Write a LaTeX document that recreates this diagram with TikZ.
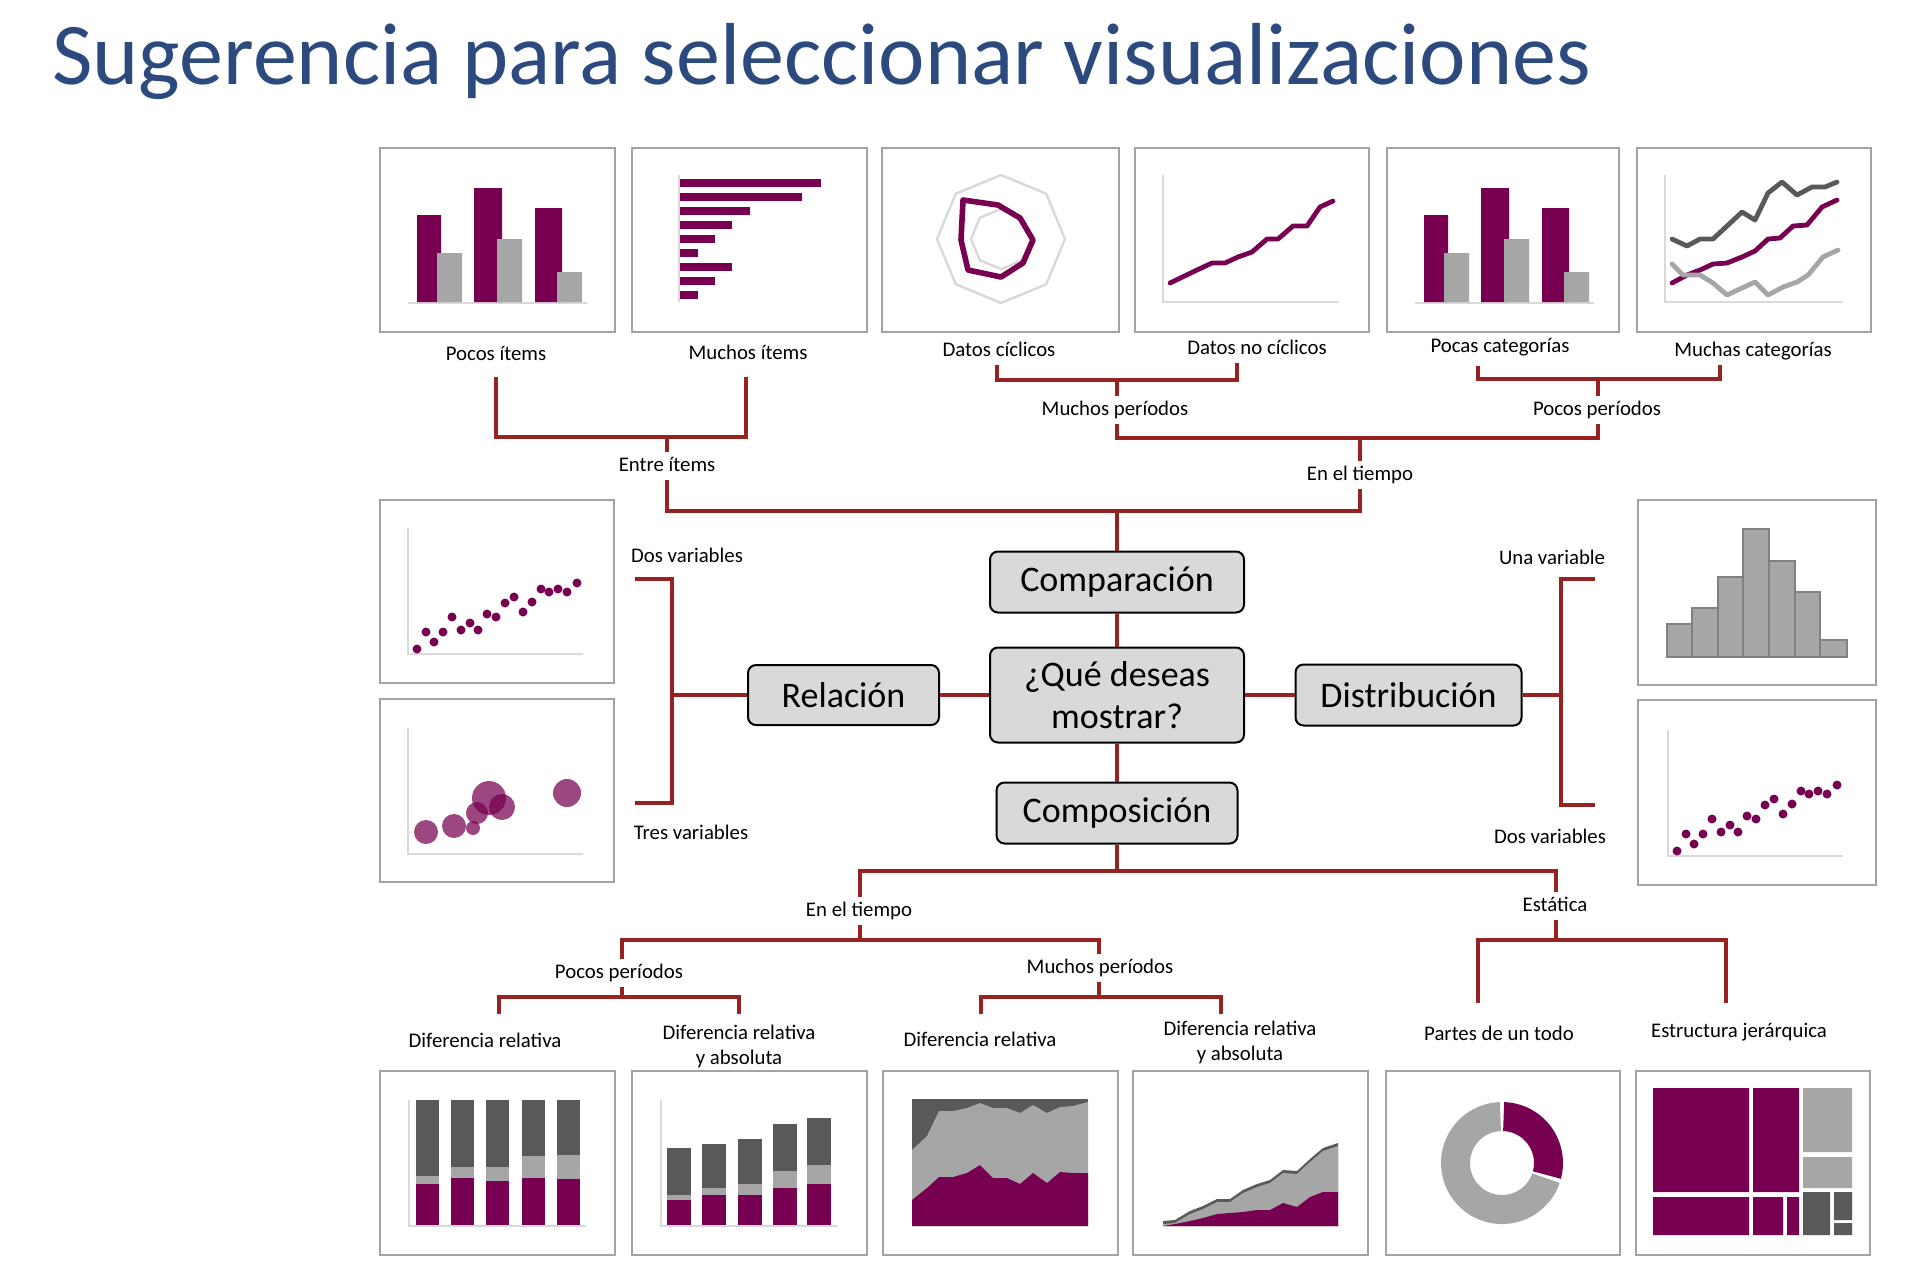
\documentclass[tikz,border=0pt]{standalone}
\usepackage{fontspec}
\setmainfont{Carlito}
\usetikzlibrary{positioning}
\definecolor{purp}{HTML}{770050}
\definecolor{lgray}{HTML}{A6A6A6}
\definecolor{dgray}{HTML}{595959}
\definecolor{axisgray}{HTML}{D9D9D9}
\definecolor{framegray}{HTML}{A3A3A3}
\definecolor{treered}{HTML}{962222}
\definecolor{boxgray}{HTML}{D9D9D9}
\definecolor{titleblue}{HTML}{2C4A7E}
\tikzset{
  thumb/.style={draw=framegray, line width=1.3pt, fill=white},
  axisline/.style={draw=axisgray, line width=0.9pt},
  tree/.style={draw=treered, line width=1.6pt},
  topic/.style={draw=black, line width=1pt, rounded corners=4pt, fill=boxgray,
    inner sep=0pt, align=center, font=\fontsize{18}{21}\selectfont},
  lbl/.style={fill=white, inner sep=2pt, text height=7.5pt, text depth=2.3pt,
    font=\fontsize{10.4}{12.5}\selectfont},
  lbltwo/.style={fill=white, inner sep=2pt, align=center,
    font=\fontsize{10.4}{12.5}\selectfont},
  serie/.style={line width=2.4pt, line join=round, line cap=round}
}
% two thumbnails that repeat
\newcommand{\groupbars}{%
  \draw[axisline] (28,155) -- (207,155);
  \fill[purp] (37,67) rectangle (61,154) (94,40) rectangle (122,154) (155,60) rectangle (182,154);
  \fill[lgray] (57,105) rectangle (82,154) (117,91) rectangle (142,154) (177,124) rectangle (202,154);
}
\newcommand{\scatterdots}{%
  \draw[axisline] (28,28) -- (28,154) -- (203,154);
  \foreach \px/\py in {37/149,46/132,54/142,63/132,72/117,81/130,90/123,98/130,107/114,116/117,
      125/103,134/97,143/112,152/102,161/89,169/92,178/89,187/92,197/83}
    \fill[purp] (\px,\py) circle[radius=4.5];
}

\begin{document}
\begin{tikzpicture}[x=0.5pt, y=-0.5pt]
  \useasboundingbox (0,0) rectangle (1930,1276);
  \node[anchor=base west, inner sep=0pt, text=titleblue, font=\fontsize{44}{50}\selectfont]
    (title) at (52,84) {Sugerencia para seleccionar visualizaciones};

  % central topics
  \node[topic, minimum width=127pt, minimum height=30.5pt] (cmp) at (1117,582) {Comparación};
  \node[topic, minimum width=127pt, minimum height=47.5pt] (que) at (1117,695) {¿Qué deseas\\mostrar?};
  \node[topic, minimum width=120.5pt, minimum height=30.5pt] (comp) at (1117,813) {Composición};
  \node[topic, minimum width=95.5pt, minimum height=30pt] (rel) at (843.5,695) {Relación};
  \node[topic, minimum width=113pt, minimum height=30.5pt] (dist) at (1408.5,695) {Distribución};

  % junctions
  \coordinate (j1) at (667,437);  \coordinate (j2) at (1117,380);
  \coordinate (j3) at (1598,379); \coordinate (j4) at (1360,438);
  \coordinate (topbar) at (1117,511);
  \coordinate (lg1) at (496,377);  \coordinate (lg2) at (746,377);
  \coordinate (lg3) at (997,363);  \coordinate (lg4) at (1237,363);
  \coordinate (lg5) at (1478,364); \coordinate (lg6) at (1720,364);
  \coordinate (lt) at (635,579); \coordinate (lb) at (635,803); \coordinate (lj) at (672,695);
  \coordinate (rt) at (1595,579); \coordinate (rb) at (1595,805); \coordinate (rj) at (1561,695);
  \coordinate (bj) at (1117,871); \coordinate (bt) at (860,940); \coordinate (be) at (1556,940);
  \coordinate (pp) at (622,997); \coordinate (mp) at (1099,997);
  \coordinate (c1) at (499,1014); \coordinate (c2) at (739,1014);
  \coordinate (c3) at (981,1014); \coordinate (c4) at (1221,1014);
  \coordinate (c5) at (1478,1003); \coordinate (c6) at (1726,1003);

  % comparison tree
  \draw[tree] (lg1) |- (j1) -| (lg2);
  \draw[tree] (lg3) |- (j2) -| (lg4);
  \draw[tree] (lg5) |- (j3) -| (lg6);
  \draw[tree] (j2) |- (j4) -| (j3);
  \draw[tree] (j1) |- (topbar) -| (j4);
  \draw[tree] (topbar) -- (cmp.north);
  % centre
  \draw[tree] (cmp.south) -- (que.north);
  \draw[tree] (que.south) -- (comp.north);
  \draw[tree] (rel.east) -- (que.west);
  \draw[tree] (que.east) -- (dist.west);
  \draw[tree] (lt) -| (lj) |- (lb);
  \draw[tree] (rel.west) -- (lj);
  \draw[tree] (rt) -| (rj) |- (rb);
  \draw[tree] (dist.east) -- (rj);
  % composition tree
  \draw[tree] (comp.south) -- (bj);
  \draw[tree] (bt) |- (bj) -| (be);
  \draw[tree] (pp) |- (bt) -| (mp);
  \draw[tree] (c1) |- (pp) -| (c2);
  \draw[tree] (c3) |- (mp) -| (c4);
  \draw[tree] (c5) |- (be) -| (c6);

  % labels
  \node[lbl] (pocos) at (496,355) {Pocos ítems};
  \node[lbl] (muchos) at (748,354) {Muchos ítems};
  \node[lbl] (ciclicos) at (999,351) {Datos cíclicos};
  \node[lbl] (nociclicos) at (1257,349) {Datos no cíclicos};
  \node[lbl, inner ysep=4.5pt] (pocascat) at (1500,347) {Pocas categorías};
  \node[lbl] (muchascat) at (1753,351) {Muchas categorías};
  \node[lbl] (entre) at (667,466) {Entre ítems};
  \node[lbl] (mper1) at (1115,410) {Muchos períodos};
  \node[lbl] (pper1) at (1597,410) {Pocos períodos};
  \node[lbl] (tiempo1) at (1360,475) {En el tiempo};
  \node[lbl] (dosvarL) at (687,557) {Dos variables};
  \node[lbl] (tresvar) at (691,834) {Tres variables};
  \node[lbl] (unavar) at (1552,559) {Una variable};
  \node[lbl] (dosvarR) at (1550,838) {Dos variables};
  \node[lbl] (tiempo2) at (859,911) {En el tiempo};
  \node[lbl] (estatica) at (1555,906) {Estática};
  \node[lbl] (pper2) at (619,973) {Pocos períodos};
  \node[lbl] (mper2) at (1100,968) {Muchos períodos};
  \node[lbl] (difrel1) at (485,1042) {Diferencia relativa};
  \node[lbltwo] (difabs1) at (739,1046) {Diferencia relativa\\y absoluta};
  \node[lbl] (difrel2) at (980,1041) {Diferencia relativa};
  \node[lbltwo] (difabs2) at (1240,1042) {Diferencia relativa\\y absoluta};
  \node[lbl] (partes) at (1499,1035) {Partes de un todo};
  \node[lbl] (jerarq) at (1739,1032) {Estructura jerárquica};

  % top row thumbnails
  \begin{scope}[shift={(380,148)}]
    \draw[thumb] (0,0) rectangle (235,184);
    \groupbars
  \end{scope}
  \begin{scope}[shift={(632,148)}]
    \draw[thumb] (0,0) rectangle (235,184);
    \draw[axisline] (47,27) -- (47,154);
    \foreach \i/\w in {0/189,1/170,2/118,3/100,4/83,5/66,6/100,7/83,8/66}
      \fill[purp] (48,31+14*\i) rectangle (\w,39+14*\i);
  \end{scope}
  \begin{scope}[shift={(882,148)}]
    \draw[thumb] (0,0) rectangle (237,184);
    \begin{scope}[shift={(119,91)}]
      \draw[axisgray, line width=1.2pt] (90:64) \foreach \a in {45,0,...,-225} {-- (\a:64)} -- cycle;
      \draw[axisgray, line width=1.2pt] (90:30) \foreach \a in {45,0,...,-225} {-- (\a:30)} -- cycle;
      \draw[purp, serie, line width=2.8pt] (-38,-39) -- (-3,-34) -- (19,-21) -- (32,1) -- (22,24) -- (0,38) -- (-33,31) -- (-40,1) -- cycle;
    \end{scope}
  \end{scope}
  \begin{scope}[shift={(1135,148)}]
    \draw[thumb] (0,0) rectangle (234,184);
    \draw[axisline] (28,27) -- (28,154) -- (204,154);
    \draw[purp, serie] (35,135) -- (62,122) -- (77,115) -- (90,115) -- (103,109) -- (117,104) -- (132,91)
      -- (143,91) -- (158,78) -- (172,78) -- (185,59) -- (198,53);
  \end{scope}
  \begin{scope}[shift={(1387,148)}]
    \draw[thumb] (0,0) rectangle (232,184);
    \groupbars
  \end{scope}
  \begin{scope}[shift={(1637,148)}]
    \draw[thumb] (0,0) rectangle (234,184);
    \draw[axisline] (28,27) -- (28,154) -- (206,154);
    \draw[dgray, serie] (35,91) -- (50,98) -- (63,91) -- (76,91) -- (90,78) -- (105,64) -- (118,72)
      -- (131,45) -- (145,34) -- (160,47) -- (175,39) -- (188,39) -- (200,34);
    \draw[purp, serie] (35,135) -- (50,127) -- (63,122) -- (76,116) -- (90,115) -- (105,109) -- (118,103)
      -- (131,91) -- (143,90) -- (156,78) -- (170,77) -- (185,59) -- (200,52);
    \draw[lgray, serie] (35,116) -- (46,127) -- (63,127) -- (76,135) -- (90,147) -- (105,140) -- (118,134)
      -- (131,147) -- (146,139) -- (160,134) -- (171,127) -- (186,109) -- (201,102);
  \end{scope}

  % side thumbnails
  \begin{scope}[shift={(380,500)}]
    \draw[thumb] (0,0) rectangle (234,183);
    \scatterdots
  \end{scope}
  \begin{scope}[shift={(380,699)}]
    \draw[thumb] (0,0) rectangle (234,183);
    \draw[axisline] (28,29) -- (28,155) -- (203,155);
    \foreach \px/\py/\r in {46/133/12,74/127/12,93/129/7,97/114/11,109/99/17,122/108/13,187/94/14}
      \fill[purp, fill opacity=0.72] (\px,\py) circle[radius=\r];
  \end{scope}
  \begin{scope}[shift={(1638,500)}]
    \draw[thumb] (0,0) rectangle (238,185);
    \foreach \xa/\xb/\t in {29/54/124,54/80/108,80/105/77,105/131/29,131/157/61,157/182/92,182/209/140}
      \filldraw[fill=lgray, draw=gray, line width=0.7pt] (\xa,\t) rectangle (\xb,157);
  \end{scope}
  \begin{scope}[shift={(1638,700)}]
    \draw[thumb] (0,0) rectangle (238,185);
    \begin{scope}[shift={(2,2)}]
      \scatterdots
    \end{scope}
  \end{scope}

  % bottom row thumbnails
  \begin{scope}[shift={(380,1071)}]
    \draw[thumb] (0,0) rectangle (235,184);
    \draw[axisline] (29,29) -- (29,155) -- (206,155);
    \foreach \bx/\p/\l in {36/113/105,71/107/96,106/110/96,142/107/85,177/108/84} {
      \fill[dgray] (\bx,29) rectangle (\bx+23,\l);
      \fill[lgray] (\bx,\l) rectangle (\bx+23,\p);
      \fill[purp] (\bx,\p) rectangle (\bx+23,154);
    }
  \end{scope}
  \begin{scope}[shift={(632,1071)}]
    \draw[thumb] (0,0) rectangle (235,184);
    \draw[axisline] (29,29) -- (29,155) -- (205,155);
    \foreach \bx/\d/\l/\p in {35/77/124/129,70/73/117/124,106/68/113/124,141/53/100/117,175/47/94/113} {
      \fill[dgray] (\bx,\d) rectangle (\bx+24,\l);
      \fill[lgray] (\bx,\l) rectangle (\bx+24,\p);
      \fill[purp] (\bx,\p) rectangle (\bx+24,154);
    }
  \end{scope}
  \begin{scope}[shift={(883,1071)}]
    \draw[thumb] (0,0) rectangle (235,184);
    \fill[dgray] (29,28) rectangle (205,155);
    \fill[lgray] (29,79) -- (44,65) -- (56,40) -- (70,40) -- (84,37) -- (97,32) -- (110,37) -- (124,37)
      -- (137,42) -- (150,34) -- (164,42) -- (177,36) -- (190,35) -- (205,31) -- (205,155) -- (29,155) -- cycle;
    \fill[purp] (29,129) -- (44,117) -- (56,106) -- (70,106) -- (84,102) -- (97,94) -- (110,107) -- (124,107)
      -- (137,113) -- (150,102) -- (164,112) -- (177,101) -- (190,102) -- (205,102) -- (205,155) -- (29,155) -- cycle;
  \end{scope}
  \begin{scope}[shift={(1133,1071)}]
    \draw[thumb] (0,0) rectangle (235,184);
    \fill[dgray] (30,150) -- (42,149) -- (57,140) -- (70,135) -- (84,128) -- (97,128) -- (110,119) -- (124,113)
      -- (137,109) -- (150,99) -- (164,100) -- (177,88) -- (190,77) -- (205,72) -- (205,155) -- (30,155) -- cycle;
    \fill[lgray] (30,153) -- (42,152) -- (57,143) -- (70,138) -- (84,131) -- (97,131) -- (110,122) -- (124,116)
      -- (137,112) -- (150,102) -- (164,103) -- (177,91) -- (190,80) -- (205,75) -- (205,155) -- (30,155) -- cycle;
    \fill[purp] (30,155) -- (42,153) -- (57,150) -- (70,147) -- (84,143) -- (97,142) -- (110,141) -- (124,139)
      -- (137,139) -- (150,132) -- (164,136) -- (177,126) -- (190,121) -- (205,121) -- (205,155) -- cycle;
  \end{scope}
  \begin{scope}[shift={(1386,1071)}]
    \draw[thumb] (0,0) rectangle (234,184);
    \begin{scope}[shift={(116,92)}]
      \fill[purp] (-88:61) arc[start angle=-88, end angle=15, radius=61] -- (15:32)
        arc[start angle=15, end angle=-88, radius=32] -- cycle;
      \fill[lgray] (19:61) arc[start angle=19, end angle=268, radius=61] -- (268:32)
        arc[start angle=268, end angle=19, radius=32] -- cycle;
    \end{scope}
  \end{scope}
  \begin{scope}[shift={(1636,1071)}]
    \draw[thumb] (0,0) rectangle (234,184);
    \fill[purp] (17,17) rectangle (113,121) (117,17) rectangle (163,121)
      (17,126) rectangle (113,164) (117,126) rectangle (147,164) (151,126) rectangle (163,164);
    \fill[lgray] (167,17) rectangle (216,81) (167,86) rectangle (216,117);
    \fill[dgray] (167,121) rectangle (194,164) (198,121) rectangle (216,149) (198,152) rectangle (216,164);
  \end{scope}
\end{tikzpicture}
\end{document}
